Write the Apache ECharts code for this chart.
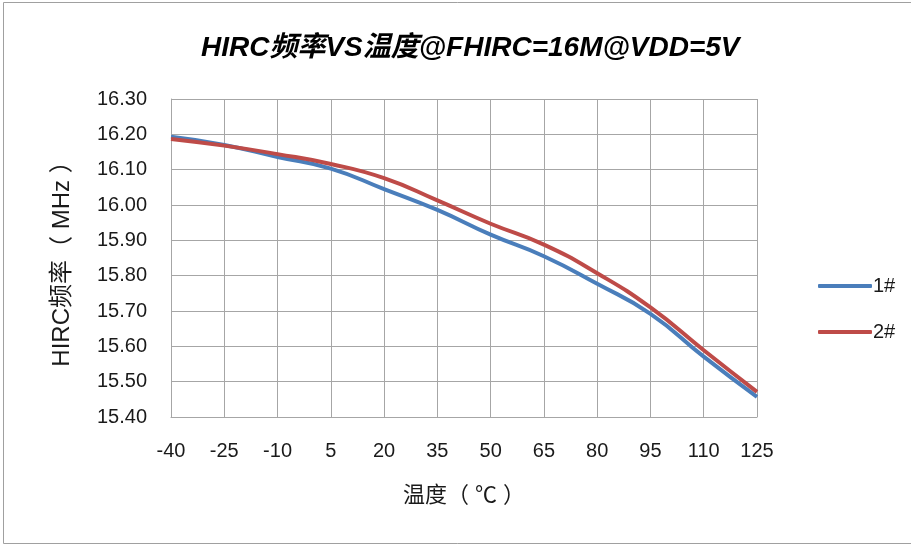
<!DOCTYPE html>
<html>
<head>
<meta charset="utf-8">
<script src="https://cdn.jsdelivr.net/npm/echarts@6/dist/echarts.min.js"></script>
<style>
html,body{margin:0;padding:0;background:#fff;}
#c{width:911px;height:545px;}
</style>
</head>
<body>
<div id="c"></div>
<script>
var categories = ['-40','-25','-10','5','20','35','50','65','80','95','110','125'];
var series1 = [16.193, 16.170, 16.136, 16.103, 16.045, 15.986, 15.916, 15.855, 15.777, 15.692, 15.571, 15.457];
var series2 = [16.187, 16.168, 16.144, 16.116, 16.076, 16.013, 15.947, 15.888, 15.807, 15.710, 15.589, 15.471];
var seriesNames = ['1#', '2#'];
var titleText = 'HIRC频率VS温度@FHIRC=16M@VDD=5V';
var yName = 'HIRC频率（ MHz ）';
var xName = '温度（ ℃ ）';

var font = '"Liberation Sans", "Noto Sans CJK SC", sans-serif';
var chart = echarts.init(document.getElementById('c'), null, {renderer: 'canvas'});
chart.setOption({
  backgroundColor: '#fff',
  animation: false,
  title: {
    text: titleText,
    left: 196,
    top: 29,
    textStyle: {fontFamily: font, fontSize: 28, fontWeight: 'bold', fontStyle: 'italic', color: '#000'}
  },
  legend: {
    orient: 'vertical',
    left: 813,
    top: 271,
    itemWidth: 54,
    itemHeight: 4,
    itemGap: 26,
    icon: 'roundRect',
    textStyle: {fontFamily: font, fontSize: 20, color: '#1a1a1a', padding: [0,0,0,-4]},
    data: seriesNames
  },
  grid: {left: 171, right: 154, top: 99, bottom: 128, containLabel: false},
  xAxis: {
    type: 'category',
    data: categories,
    boundaryGap: false,
    name: xName,
    nameLocation: 'middle',
    nameGap: 68,
    nameTextStyle: {fontFamily: font, fontSize: 22, color: '#1a1a1a'},
    axisLine: {show: true, lineStyle: {color: '#a6a6a6', width: 1}},
    axisTick: {show: false},
    axisLabel: {fontFamily: font, fontSize: 20, color: '#1a1a1a', margin: 24},
    splitLine: {show: true, lineStyle: {color: '#a6a6a6', width: 1}}
  },
  yAxis: {
    type: 'value',
    min: 15.4,
    max: 16.3,
    interval: 0.1,
    name: yName,
    nameLocation: 'middle',
    nameGap: 97,
    nameRotate: 90,
    nameTextStyle: {fontFamily: font, fontSize: 24, color: '#1a1a1a'},
    axisLine: {show: true, lineStyle: {color: '#a6a6a6', width: 1}},
    axisTick: {show: false},
    axisLabel: {fontFamily: font, fontSize: 20, color: '#1a1a1a', margin: 24, formatter: function(v){return v.toFixed(2);}},
    splitLine: {show: true, lineStyle: {color: '#a6a6a6', width: 1}}
  },
  series: [
    {name: seriesNames[0], type: 'line', data: series1, smooth: true, showSymbol: false, symbol: 'none',
     lineStyle: {width: 4, color: '#4A7EBB'}, itemStyle: {color: '#4A7EBB'}},
    {name: seriesNames[1], type: 'line', data: series2, smooth: true, showSymbol: false, symbol: 'none',
     lineStyle: {width: 4, color: '#BE4B48'}, itemStyle: {color: '#BE4B48'}}
  ],
  graphic: [
    {type: 'rect', silent: true, z: -1, shape: {x: 3.5, y: 2.5, width: 1000, height: 541}, style: {fill: 'none', stroke: '#a0a0a0', lineWidth: 1}}
  ]
});
</script>
</body>
</html>
